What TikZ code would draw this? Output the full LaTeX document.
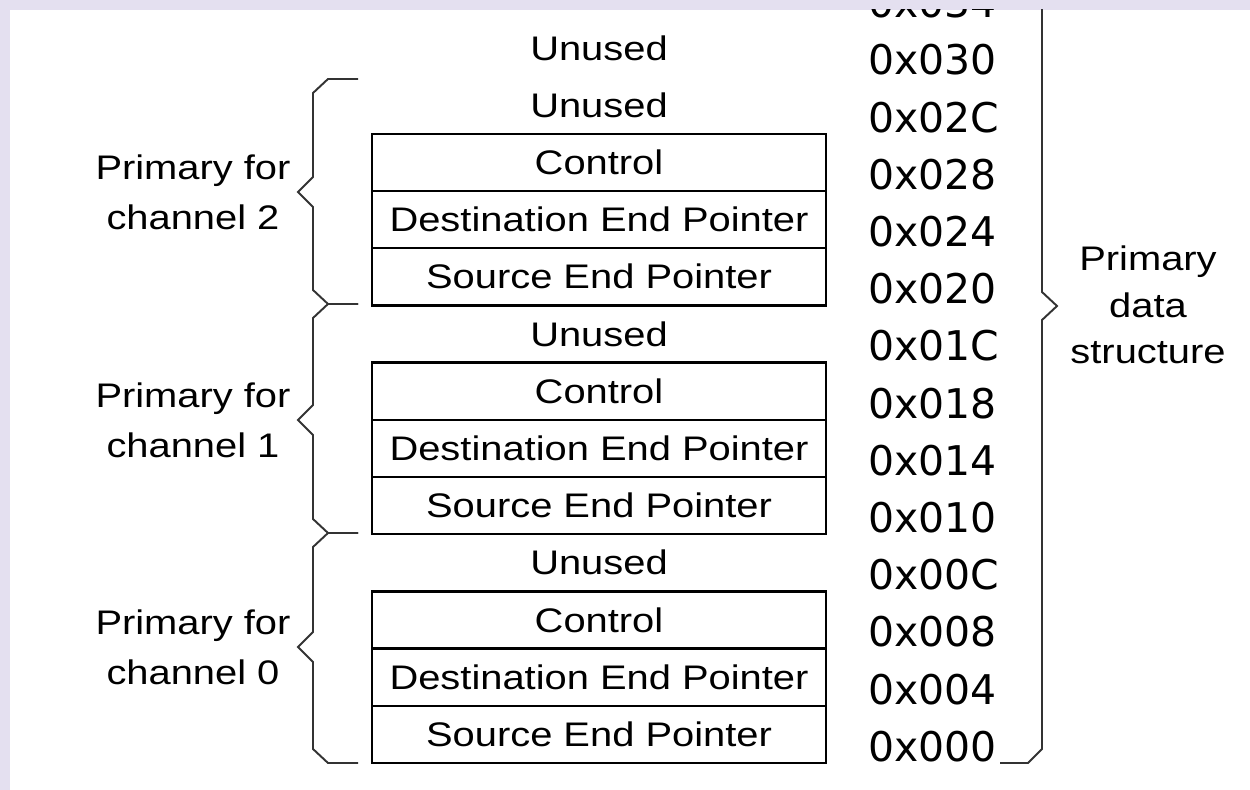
\documentclass[tikz,border=0pt]{standalone}
\usepackage{fontspec}
\setmainfont{Liberation Sans}[FakeStretch=1.17]
\newfontfamily\addrfont{DejaVu Sans}
\usetikzlibrary{positioning}
\definecolor{slidebg}{RGB}{228,224,240}

\begin{document}
\begin{tikzpicture}[
    x=0.02cm, y=-0.02cm,
    field/.style={draw, line width=1.3pt, rectangle, minimum width=9.08cm, minimum height=1.144cm, inner sep=0pt, outer sep=0pt, font=\fontsize{19.4}{23}\selectfont},
    spare/.style={inner sep=0pt, font=\fontsize{19.4}{23}\selectfont},
    addr/.style={anchor=west, inner sep=0pt, font=\addrfont\fontsize{23.3}{28}\selectfont},
    grp/.style={align=center, inner sep=0pt, font=\fontsize{19.4}{28.35}\selectfont},
    brace/.style={draw, line width=1.1pt, black!80, line join=miter}
]

% Frame of the screenshot
\useasboundingbox (0,0) rectangle (1250,790);
\fill[slidebg] (0,0) rectangle (1250,790);
\fill[white] (10,10) rectangle (1250,790);

\begin{scope}
\clip (10,10) rectangle (1250,790);

% Channel 2
\node[spare] (un12) at (599,48.0) {Unused};
\node[spare] (un11) at (599,105.2) {Unused};
\node[field] (ctl2) at (599,162.4) {Control};
\node[field, below=0pt of ctl2] (dst2) {Destination End Pointer};
\node[field, below=0pt of dst2] (src2) {Source End Pointer};

% Channel 1
\node[spare] (un7) at (599,334.0) {Unused};
\node[field] (ctl1) at (599,391.2) {Control};
\node[field, below=0pt of ctl1] (dst1) {Destination End Pointer};
\node[field, below=0pt of dst1] (src1) {Source End Pointer};

% Channel 0
\node[spare] (un3) at (599,562.8) {Unused};
\node[field] (ctl0) at (599,620.0) {Control};
\node[field, below=0pt of ctl0] (dst0) {Destination End Pointer};
\node[field, below=0pt of dst0] (src0) {Source End Pointer};

% Addresses
\node[addr] (a034) at (868,2.8) {0x034};
\node[addr] (a030) at (868,60.0) {0x030};
\node[addr] (a02C) at (868,117.2) {0x02C};
\node[addr] (a028) at (868,174.4) {0x028};
\node[addr] (a024) at (868,231.6) {0x024};
\node[addr] (a020) at (868,288.8) {0x020};
\node[addr] (a01C) at (868,346.0) {0x01C};
\node[addr] (a018) at (868,403.2) {0x018};
\node[addr] (a014) at (868,460.4) {0x014};
\node[addr] (a010) at (868,517.6) {0x010};
\node[addr] (a00C) at (868,574.8) {0x00C};
\node[addr] (a008) at (868,632.0) {0x008};
\node[addr] (a004) at (868,689.2) {0x004};
\node[addr] (a000) at (868,746.4) {0x000};

% Braces for the channels
\draw[brace] (358,79) -- (328,79) -- (313,93) -- (313,177) -- (298,192) -- (313,207) -- (313,290) -- (328,304) -- (358,304);
\draw[brace] (358,304) -- (328,304) -- (313,318) -- (313,405) -- (298,420) -- (313,435) -- (313,519) -- (328,533) -- (358,533);
\draw[brace] (358,533) -- (328,533) -- (313,547) -- (313,632) -- (298,647) -- (313,662) -- (313,749) -- (328,763) -- (358,763);

\node[grp] (ch2) at (193,192) {Primary for\\channel 2};
\node[grp] (ch1) at (193,420) {Primary for\\channel 1};
\node[grp] (ch0) at (193,647) {Primary for\\channel 0};

% Brace for the whole structure
\draw[brace] (1000,763) -- (1028,763) -- (1042,749) -- (1042,320) -- (1057,306) -- (1042,292) -- (1042,0);
\node[grp, font=\fontsize{19.4}{26.6}\selectfont] (whole) at (1148,305) {Primary\\data\\structure};
\end{scope}

\end{tikzpicture}
\end{document}
